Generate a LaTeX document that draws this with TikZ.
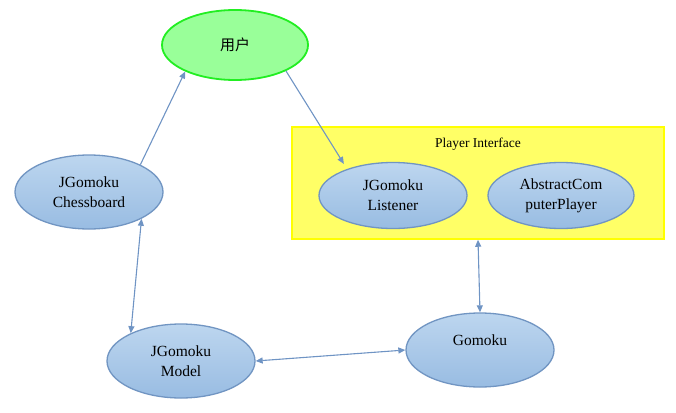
\documentclass[tikz,border=0pt]{standalone}
\usepackage{fontspec}
\setmainfont{Liberation Serif}
\newfontfamily\cjk{Noto Sans CJK SC}
\usetikzlibrary{shapes.geometric,arrows.meta}
\definecolor{edgeblue}{HTML}{6F94C4}
\definecolor{borderblue}{HTML}{7195C2}
\definecolor{filltop}{HTML}{BDD6EF}
\definecolor{fillbot}{HTML}{98BCE2}
\definecolor{usergreen}{HTML}{99FF99}
\definecolor{userborder}{HTML}{22EE22}
\definecolor{boxfill}{HTML}{FFFF66}
\definecolor{boxborder}{HTML}{FFFF00}
\tikzset{
  cls/.style={ellipse, draw=borderblue, line width=1.3pt, top color=filltop, bottom color=fillbot,
    minimum width=148pt, minimum height=74pt, inner sep=0pt, align=center,
    font=\fontsize{15.5}{20}\selectfont},
  usr/.style={ellipse, draw=userborder, line width=1.8pt, fill=usergreen,
    minimum width=146pt, minimum height=70pt, inner sep=0pt, font=\cjk\fontsize{15}{18}\selectfont},
  grp/.style={rectangle, draw=boxborder, line width=1.5pt, fill=boxfill,
    minimum width=372pt, minimum height=112pt, inner sep=0pt},
  conn/.style={draw=edgeblue, line width=1.1pt, -{Triangle[length=7pt,width=6pt]}},
  bconn/.style={draw=edgeblue, line width=1.1pt, {Triangle[length=7pt,width=6pt]}-{Triangle[length=7pt,width=6pt]}},
}
\begin{document}
\begin{tikzpicture}[x=1pt,y=-1pt]
\useasboundingbox (0,0) rectangle (676,412);
\node[grp] (pi) at (478,183) {};
\node[font=\fontsize{13.5}{16}\selectfont] (pilabel) at (478,144) {Player Interface};
\node[usr] (user) at (235,45) {用户};
\node[cls] (board) at (89,192) {JGomoku\\Chessboard};
\node[cls] (model) at (181,361) {JGomoku\\Model};
\node[cls] (gomoku) at (480,350) {Gomoku\\\phantom{G}};
\node[cls, minimum height=66pt] (listener) at (393,195.5) {JGomoku\\Listener};
\node[cls, minimum width=146pt, minimum height=66pt] (acp) at (561,195.5) {AbstractCom\\puterPlayer};
\draw[conn, shorten >=6pt] (user.-27) -- (listener.150);
\draw[conn] (board.28) -- (user.208);
\draw[bconn] (board.-27) -- (model.151);
\draw[bconn] (model.east) -- (gomoku.west);
\draw[bconn] (pi.south) -- (gomoku.north);
\end{tikzpicture}
\end{document}
